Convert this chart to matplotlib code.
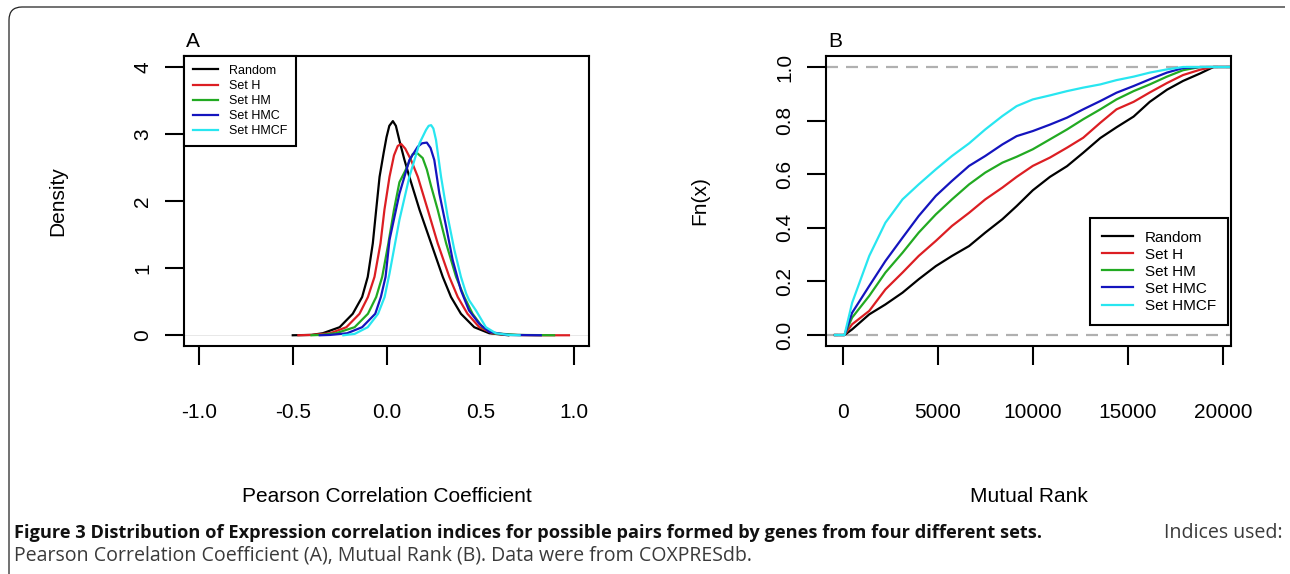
import matplotlib
matplotlib.use('Agg')
import matplotlib.pyplot as plt
from matplotlib.path import Path
from matplotlib.patches import PathPatch

W, H = 1290, 574

plt.rcParams['font.family'] = ['Liberation Sans', 'DejaVu Sans']
plt.rcParams['axes.unicode_minus'] = False

LABELS = ['Random', 'Set H', 'Set HM', 'Set HMC', 'Set HMCF']
COLORS = ['#000000', '#dc1e23', '#22aa22', '#1414be', '#28e6f0']

# panel A: density of Pearson correlation coefficient
PCC_RANDOM_X = [-0.50, -0.40, -0.34, -0.25, -0.18, -0.13, -0.10, -0.073, -0.055, -0.037,
                -0.015, 0.0, 0.015, 0.034, 0.05, 0.069, 0.095, 0.122, 0.176, 0.238,
                0.30, 0.344, 0.397, 0.468, 0.548, 0.65]
PCC_RANDOM_Y = [0.0, 0.005, 0.03, 0.12, 0.32, 0.57, 0.87, 1.37, 1.87, 2.36,
                2.72, 2.95, 3.12, 3.19, 3.12, 2.90, 2.62, 2.36, 1.87, 1.37,
                0.87, 0.57, 0.32, 0.12, 0.03, 0.0]
PCC_H_X = [-0.47, -0.40, -0.30, -0.214, -0.144, -0.099, -0.064, -0.032, -0.011, 0.016,
           0.04, 0.06, 0.078, 0.10, 0.131, 0.167, 0.22, 0.273, 0.335, 0.38,
           0.432, 0.495, 0.565, 0.65, 0.80, 0.973]
PCC_H_Y = [0.0, 0.005, 0.03, 0.12, 0.32, 0.57, 0.87, 1.37, 1.87, 2.36,
           2.68, 2.82, 2.85, 2.78, 2.61, 2.36, 1.87, 1.37, 0.87, 0.57,
           0.32, 0.12, 0.03, 0.005, 0.0, 0.0]
PCC_HM_X = [-0.40, -0.35, -0.27, -0.17, -0.099, -0.055, -0.023, 0.010, 0.040, 0.069,
            0.10, 0.122, 0.14, 0.165, 0.193, 0.215, 0.238, 0.273, 0.318, 0.371,
            0.415, 0.459, 0.512, 0.574, 0.70, 0.894]
PCC_HM_Y = [0.0, 0.005, 0.03, 0.12, 0.32, 0.57, 0.87, 1.37, 1.87, 2.28,
            2.45, 2.59, 2.70, 2.71, 2.64, 2.47, 2.22, 1.87, 1.37, 0.87,
            0.57, 0.32, 0.12, 0.03, 0.005, 0.0]
PCC_HMC_X = [-0.356, -0.30, -0.21, -0.13, -0.06, -0.03, -0.005, 0.016, 0.069, 0.122,
             0.167, 0.19, 0.215, 0.235, 0.255, 0.282, 0.318, 0.353, 0.397, 0.44,
             0.495, 0.548, 0.65, 0.823]
PCC_HMC_Y = [0.0, 0.005, 0.03, 0.12, 0.32, 0.57, 0.87, 1.42, 2.11, 2.61,
             2.81, 2.86, 2.87, 2.79, 2.61, 2.11, 1.62, 1.12, 0.67, 0.37,
             0.17, 0.05, 0.005, 0.0]
PCC_HMCF_X = [-0.23, -0.17, -0.10, -0.045, -0.01, 0.016, 0.069, 0.122, 0.176, 0.211,
              0.225, 0.238, 0.25, 0.264, 0.291, 0.326, 0.362, 0.397, 0.425, 0.441,
              0.477, 0.53, 0.583, 0.65, 0.71]
PCC_HMCF_Y = [0.0, 0.02, 0.12, 0.32, 0.57, 0.92, 1.72, 2.36, 2.86, 3.06,
              3.12, 3.13, 3.08, 2.91, 2.36, 1.77, 1.27, 0.87, 0.62, 0.52,
              0.37, 0.12, 0.03, 0.005, 0.0]

# panel B: empirical CDF of mutual rank
MR_X = [500, 1400, 2250, 3150, 4000, 4900, 5750, 6650, 7500, 8400, 9150,
        10000, 10900, 11800, 12650, 13550, 14400, 15300, 16150, 17050, 17900, 18800]
MR_RANDOM = [0.021, 0.077, 0.114, 0.158, 0.208, 0.257, 0.295, 0.332, 0.382, 0.432, 0.481,
             0.54, 0.59, 0.63, 0.68, 0.735, 0.775, 0.815, 0.87, 0.915, 0.948, 0.976]
MR_H = [0.04, 0.09, 0.17, 0.233, 0.295, 0.351, 0.407, 0.456, 0.506, 0.55, 0.59,
        0.631, 0.662, 0.699, 0.736, 0.792, 0.842, 0.870, 0.905, 0.940, 0.970, 0.990]
MR_HM = [0.065, 0.146, 0.233, 0.307, 0.382, 0.45, 0.506, 0.562, 0.606, 0.643, 0.665,
         0.693, 0.73, 0.767, 0.805, 0.842, 0.879, 0.91, 0.935, 0.964, 0.988, 1.0]
MR_HMC = [0.083, 0.183, 0.276, 0.363, 0.444, 0.519, 0.575, 0.631, 0.668, 0.711, 0.742,
          0.761, 0.785, 0.811, 0.842, 0.873, 0.904, 0.929, 0.954, 0.979, 0.996, 1.0]
MR_HMCF = [0.12, 0.295, 0.419, 0.506, 0.562, 0.618, 0.668, 0.715, 0.767, 0.817, 0.854,
           0.879, 0.894, 0.91, 0.923, 0.935, 0.951, 0.964, 0.979, 0.991, 1.0, 1.0]
MR_START = [-400, 100]
MR_END = [19500, 20420]

fig = plt.figure(figsize=(W / 100, H / 100), dpi=100)
axA = fig.add_axes([184 / W, 1 - 346 / H, 405 / W, 290 / H])
axB = fig.add_axes([826 / W, 1 - 346 / H, 405 / W, 290 / H])


def style_axes(ax):
    for s in ax.spines.values():
        s.set_linewidth(1.5)
    ax.tick_params(axis='both', direction='out', length=14, width=1.5, labelsize=15)
    ax.tick_params(axis='x', pad=27)
    ax.tick_params(axis='y', pad=9, labelrotation=90)
    for lab in ax.get_yticklabels():
        lab.set_va('center')


# ---- panel A
pcc = [(PCC_RANDOM_X, PCC_RANDOM_Y), (PCC_H_X, PCC_H_Y), (PCC_HM_X, PCC_HM_Y),
       (PCC_HMC_X, PCC_HMC_Y), (PCC_HMCF_X, PCC_HMCF_Y)]
axA.axhline(0, color='#e4e4e4', lw=0.6, zorder=1)
linesA = []
for (xs, ys), c in zip(pcc, COLORS):
    ln, = axA.plot(xs, ys, color=c, lw=1.6, zorder=2, solid_joinstyle='round')
    linesA.append(ln)
axA.set_xlim(-1.08, 1.08)
axA.set_ylim(-0.16, 4.16)
axA.set_xticks([-1.0, -0.5, 0.0, 0.5, 1.0])
axA.set_xticklabels(['-1.0', '-0.5', '0.0', '0.5', '1.0'])
axA.set_yticks([0, 1, 2, 3, 4])
axA.set_yticklabels(['0', '1', '2', '3', '4'])
style_axes(axA)
axA.set_xlabel('Pearson Correlation Coefficient', fontsize=15, va='center')
axA.xaxis.set_label_coords(0.5, (346 - 497) / 290)
axA.set_ylabel('Density', fontsize=15, va='center')
axA.yaxis.set_label_coords((58 - 184) / 405, 0.5)
axA.text(0.005, 1 + 9 / 290, 'A', transform=axA.transAxes, fontsize=15,
         ha='left', va='baseline')
legA = axA.legend(linesA, LABELS, loc='upper left', bbox_to_anchor=(0, 1),
                  borderaxespad=0, fontsize=9, fancybox=False, edgecolor='black',
                  framealpha=1, handlelength=2.0, handletextpad=0.9,
                  labelspacing=0.25, borderpad=0.7)
legA.get_frame().set_linewidth(1.5)

# ---- panel B
axB.axhline(0, color='#b0b0b0', lw=1.6, ls=(0, (5.4, 3.6)), zorder=1)
axB.axhline(1, color='#b0b0b0', lw=1.6, ls=(0, (5.4, 3.6)), zorder=1)
linesB = []
for ys, c in zip([MR_RANDOM, MR_H, MR_HM, MR_HMC, MR_HMCF], COLORS):
    xs = MR_START + MR_X + MR_END
    yy = [0, 0] + ys + [1, 1]
    ln, = axB.plot(xs, yy, color=c, lw=1.6, zorder=2)
    linesB.append(ln)
axB.set_xlim(-873, 20420)
axB.set_ylim(-0.041, 1.041)
axB.set_xticks([0, 5000, 10000, 15000, 20000])
axB.set_xticklabels(['0', '5000', '10000', '15000', '20000'])
axB.set_yticks([0, 0.2, 0.4, 0.6, 0.8, 1.0])
axB.set_yticklabels(['0.0', '0.2', '0.4', '0.6', '0.8', '1.0'])
style_axes(axB)
axB.set_xlabel('Mutual Rank', fontsize=15, va='center')
axB.xaxis.set_label_coords(0.5, (346 - 497) / 290)
axB.set_ylabel('Fn(x)', fontsize=15, va='center')
axB.yaxis.set_label_coords((700 - 826) / 405, 0.5)
axB.text(0.005, 1 + 9 / 290, 'B', transform=axB.transAxes, fontsize=15,
         ha='left', va='baseline')
legB = axB.legend(linesB, LABELS, loc='lower right', bbox_to_anchor=(0.993, 0.072),
                  borderaxespad=0, fontsize=11, fancybox=False, edgecolor='black',
                  framealpha=1, handlelength=2.0, handletextpad=0.8,
                  labelspacing=0.2, borderpad=0.8)
legB.get_frame().set_linewidth(1.5)

# ---- frame around the figure (top and left edges, rounded corner)
def fx(x):
    return x / W


def fy(y):
    return 1 - y / H


frame = Path([(fx(1285), fy(7)), (fx(22), fy(7)), (fx(9), fy(7)), (fx(9), fy(20)),
              (fx(9), fy(574))],
             [Path.MOVETO, Path.LINETO, Path.CURVE3, Path.CURVE3, Path.LINETO])
fig.add_artist(PathPatch(frame, transform=fig.transFigure, fill=False,
                         edgecolor='#222222', lw=0.9))

# ---- caption
cap_bold = ('Figure 3 Distribution of Expression correlation indices for possible '
            'pairs formed by genes from four different sets.')
cap_tail = 'Indices used:'
cap_line2 = ('Pearson Correlation Coefficient (A), Mutual Rank (B). '
             'Data were from COXPRESdb.')
t1 = fig.text(fx(14), fy(533), cap_bold, fontsize=11, fontweight='bold',
              family='Open Sans', ha='left', va='center', color='#111111')
t2 = fig.text(fx(1282), fy(533), cap_tail, fontsize=11, family='Open Sans',
              ha='right', va='center', color='#3a3a3a')
t3 = fig.text(fx(14), fy(555), cap_line2, fontsize=11, family='Open Sans',
              ha='left', va='center', color='#3a3a3a')
fig.canvas.draw()
r = fig.canvas.get_renderer()
w1 = t1.get_window_extent(r).width
t1.set_fontsize(11 * 1031 / w1)
w3 = t3.get_window_extent(r).width
t3.set_fontsize(11 * 738 / w3)
t2.set_fontsize(11 * 738 / w3)

fig.savefig('out.png', dpi=100)
